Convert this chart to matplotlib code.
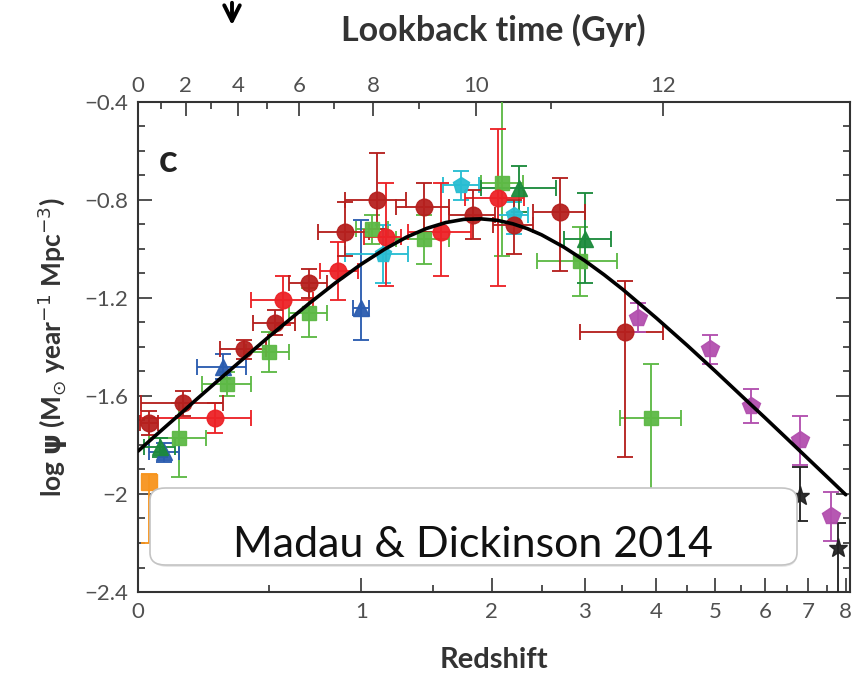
import numpy as np
import matplotlib
matplotlib.use('Agg')
import matplotlib.pyplot as plt
from matplotlib.patches import FancyBboxPatch, FancyArrowPatch
from matplotlib.ticker import FixedLocator, FixedFormatter

# ---------------- data ----------------
# best-fit curve: redshift, log SFRD
curve_z = [0, 0.05, 0.1, 0.15, 0.2, 0.3, 0.4, 0.5, 0.7, 0.85, 1.0, 1.15, 1.3, 1.45, 1.6, 1.75, 1.9,
           2.05, 2.2, 2.35, 2.5, 2.75, 3.0, 3.25, 3.5, 4, 4.5, 5, 5.5, 6, 6.5, 7, 7.5, 8]
curve_y = [-1.825, -1.768, -1.714, -1.663, -1.613, -1.521, -1.437, -1.359, -1.223, -1.136, -1.062,
           -1.001, -0.952, -0.916, -0.892, -0.879, -0.877, -0.883, -0.897, -0.917, -0.942, -0.992,
           -1.047, -1.105, -1.164, -1.282, -1.393, -1.498, -1.597, -1.688, -1.774, -1.855, -1.931, -2.003]

red_z = [0.27, 0.57, 0.86, 1.16, 1.56, 2.06]
red_y = [-1.69, -1.21, -1.09, -0.95, -0.93, -0.79]
red_ydn = [0.06, 0.10, 0.12, 0.20, 0.18, 0.36]
red_yup = [0.06, 0.10, 0.12, 0.22, 0.20, 0.28]
red_zl = [0.26, 0.15, 0.10, 0.14, 0.25, 0.30]
red_zr = [0.15, 0.15, 0.12, 0.10, 0.25, 0.25]

dred_z = [0.035, 0.15, 0.39, 0.53, 0.70, 0.90, 1.10, 1.43, 1.83, 2.21, 2.71, 3.53]
dred_y = [-1.71, -1.63, -1.41, -1.30, -1.14, -0.93, -0.80, -0.83, -0.86, -0.90, -0.85, -1.34]
dred_ydn = [0.05, 0.05, 0.04, 0.05, 0.06, 0.10, 0.12, 0.10, 0.10, 0.12, 0.24, 0.51]
dred_yup = [0.05, 0.05, 0.04, 0.05, 0.06, 0.12, 0.19, 0.10, 0.10, 0.10, 0.14, 0.21]
dred_zl = [0.03, 0.14, 0.10, 0.10, 0.10, 0.15, 0.20, 0.20, 0.20, 0.20, 0.30, 0.58]
dred_zr = [0.03, 0.15, 0.10, 0.10, 0.10, 0.15, 0.20, 0.20, 0.20, 0.20, 0.30, 0.58]

green_z = [0.135, 0.32, 0.50, 0.70, 1.07, 1.43, 2.10, 2.95, 3.92]
green_y = [-1.77, -1.55, -1.42, -1.26, -0.92, -0.96, -0.73, -1.05, -1.69]
green_ydn = [0.16, 0.05, 0.08, 0.10, 0.06, 0.10, 0.30, 0.14, 0.32]
green_yup = [0.14, 0.05, 0.08, 0.10, 0.06, 0.10, 0.45, 0.14, 0.22]
green_zl = [0.10, 0.10, 0.10, 0.10, 0.10, 0.20, 0.20, 0.50, 0.46]
green_zr = [0.10, 0.10, 0.10, 0.10, 0.10, 0.20, 0.20, 0.48, 0.48]

dgreen_z = [0.07, 2.26, 3.01]
dgreen_y = [-1.81, -0.75, -0.96]
dgreen_ydn = [0.04, 0.10, 0.18]
dgreen_yup = [0.04, 0.09, 0.19]
dgreen_zl = [0.05, 0.36, 0.26]
dgreen_zr = [0.05, 0.40, 0.33]

blue_z = [0.085, 0.30, 1.00]
blue_y = [-1.83, -1.48, -1.24]
blue_ydn = [0.04, 0.05, 0.13]
blue_yup = [0.04, 0.05, 0.36]
blue_zl = [0.05, 0.10, 0.05]
blue_zr = [0.05, 0.10, 0.05]

cyan_z = [1.14, 1.73, 2.21]
cyan_y = [-1.02, -0.74, -0.86]
cyan_ydn = [0.12, 0.06, 0.08]
cyan_yup = [0.12, 0.06, 0.05]
cyan_zl = [0.24, 0.15, 0.15]
cyan_zr = [0.17, 0.15, 0.15]

mag_z = [3.72, 4.9, 5.7, 6.8, 7.6]
mag_y = [-1.28, -1.41, -1.64, -1.78, -2.09]
mag_ydn = [0.06, 0.06, 0.07, 0.10, 0.10]
mag_yup = [0.06, 0.06, 0.07, 0.10, 0.10]

star_z = [6.8, 7.8]
star_y = [-2.01, -2.22]
star_ydn = [0.10, 0.20]
star_yup = [0.12, 0.10]

orange_z = [0.035]
orange_y = [-1.95]
orange_ydn = [0.25]
orange_yup = [0.03]

ytick_vals = [-2.4, -2.0, -1.6, -1.2, -0.8, -0.4]
ytick_labels = ['\u22122.4', '\u22122', '\u22121.6', '\u22121.2', '\u22120.8', '\u22120.4']
ztick_vals = [0, 1, 2, 3, 4, 5, 6, 7, 8]
lookback_major = [0, 2, 4, 6, 8, 10, 12]
lookback_minor = [1, 3, 5, 7, 9, 11]

# ---------------- helpers ----------------
H0, Om, OL = 70.0, 0.3, 0.7
tH = 977.8 / H0
def age(z):
    return 2 * tH / (3 * np.sqrt(OL)) * np.arcsinh(np.sqrt(OL / Om) * (1 + np.asarray(z, float)) ** -1.5)
def z_of_lookback(tl):
    t = age(0) - np.asarray(tl, float)
    s = np.sinh(3 * np.sqrt(OL) * t / (2 * tH)) / np.sqrt(OL / Om)
    return s ** (-2.0 / 3.0) - 1

fwd = lambda z: np.log10(1 + np.asarray(z, float))
inv = lambda x: 10 ** np.asarray(x, float) - 1

plt.rcParams['font.family'] = ['Lato', 'DejaVu Sans']
plt.rcParams['mathtext.fontset'] = 'dejavusans'

fig = plt.figure(figsize=(8.57, 6.78), dpi=100)
ax = fig.add_axes([138 / 857, 86 / 678, 712 / 857, 490 / 678])
ax.set_xscale('function', functions=(fwd, inv))
ax.set_xlim(0, 8.12)
ax.set_ylim(-2.4, -0.4)

C = dict(red='#ec2227', dred='#b5201e', green='#5db945', dgreen='#1c8a3c',
         blue='#2a5caf', cyan='#27bdd2', mag='#b24fae', orange='#f7941d', black='#222222')

def eb(z, y, ydn, yup, zl, zr, marker, color, ms=10, zo=3):
    xerr = None if zl is None else [zl, zr]
    ax.errorbar(z, y, yerr=[ydn, yup], xerr=xerr, fmt=marker, color=color, mec=color,
                ms=ms, elinewidth=1.4, capsize=6, capthick=1.4, zorder=zo, alpha=0.95)

eb(green_z, green_y, green_ydn, green_yup, green_zl, green_zr, 's', C['green'], ms=10)
eb(blue_z, blue_y, blue_ydn, blue_yup, blue_zl, blue_zr, '^', C['blue'], ms=11)
eb(cyan_z, cyan_y, cyan_ydn, cyan_yup, cyan_zl, cyan_zr, 'p', C['cyan'], ms=12)
eb(dgreen_z, dgreen_y, dgreen_ydn, dgreen_yup, dgreen_zl, dgreen_zr, '^', C['dgreen'], ms=11)
eb(red_z, red_y, red_ydn, red_yup, red_zl, red_zr, 'o', C['red'], ms=12)
eb(dred_z, dred_y, dred_ydn, dred_yup, dred_zl, dred_zr, 'o', C['dred'], ms=12)
eb(mag_z, mag_y, mag_ydn, mag_yup, None, None, 'p', C['mag'], ms=13)
eb(orange_z, orange_y, orange_ydn, orange_yup, None, None, 's', C['orange'], ms=11)
eb(star_z, star_y, star_ydn, star_yup, None, None, '*', C['black'], ms=14)

ax.plot(curve_z, curve_y, color='black', lw=2.6, zorder=6, solid_capstyle='round',
        solid_joinstyle='round')

# ticks
for sp in ax.spines.values():
    sp.set_color('#333333'); sp.set_linewidth(1.5)
ax.yaxis.set_major_locator(FixedLocator(ytick_vals))
ax.yaxis.set_major_formatter(FixedFormatter(ytick_labels))
ax.yaxis.set_minor_locator(FixedLocator(np.arange(-2.4, -0.39, 0.1)))
ax.xaxis.set_major_locator(FixedLocator(ztick_vals))
ax.xaxis.set_major_formatter(FixedFormatter([str(v) for v in ztick_vals]))
ax.xaxis.set_minor_locator(FixedLocator([0.5, 1.5, 2.5, 3.5, 4.5, 5.5, 6.5, 7.5]))
ax.tick_params(which='both', direction='in', right=True, top=False, color='#333333', width=1.2)
ax.tick_params(which='major', length=10, labelsize=16, labelcolor='#505050', pad=7)
ax.tick_params(which='minor', length=5)

ax2 = ax.twiny()
ax2.set_xscale('function', functions=(fwd, inv))
ax2.set_xlim(ax.get_xlim())
ax2.xaxis.set_major_locator(FixedLocator(list(z_of_lookback(lookback_major))))
ax2.xaxis.set_major_formatter(FixedFormatter([str(v) for v in lookback_major]))
ax2.xaxis.set_minor_locator(FixedLocator(list(z_of_lookback(lookback_minor))))
ax2.tick_params(which='both', direction='in', color='#333333', width=1.2)
ax2.tick_params(which='major', length=10, labelsize=16, labelcolor='#505050', pad=4)
ax2.tick_params(which='minor', length=5)
for sp in ax2.spines.values():
    sp.set_visible(False)

ax.set_xlabel('Redshift', fontsize=21, fontweight='bold', color='#333333', labelpad=18)
ax.set_ylabel(r'log $\mathbf{\psi}$ (M$_{\odot}$ year$^{-1}$ Mpc$^{-3}$)', fontsize=19,
              fontweight='bold', color='#333333', labelpad=10)
fig.text(493 / 857, 1 - 30 / 678, 'Lookback time (Gyr)', fontsize=24.5, fontweight='bold',
         color='#333333', ha='center', va='center')
ax.text(0.042, 0.88, 'c', transform=ax.transAxes, fontsize=28, fontweight='bold',
        color='#222222', ha='center', va='center')

# arrow
fig.patches.append(FancyArrowPatch((232 / 857, 1.0), (232 / 857, 1 - 28 / 678),
                   transform=fig.transFigure, arrowstyle='->', mutation_scale=28, lw=2.8,
                   color='black'))

# overlay box
shadow = FancyBboxPatch((152 / 857, 1 - 567 / 678), (797 - 152) / 857, (567 - 490) / 678,
                        boxstyle='round,pad=0,rounding_size=0.018', transform=fig.transFigure,
                        facecolor='#d8d8d8', edgecolor='none', alpha=0.6, zorder=9)
box = FancyBboxPatch((150 / 857, 1 - 565 / 678), (797 - 150) / 857, (565 - 488) / 678,
                     boxstyle='round,pad=0,rounding_size=0.018', transform=fig.transFigure,
                     facecolor='white', edgecolor='#c4c4c4', lw=1.2, zorder=10)
fig.patches.append(shadow)
fig.patches.append(box)
fig.text(473 / 857, 1 - 545 / 678, 'Madau & Dickinson 2014', fontsize=31, color='#111111',
         ha='center', va='center', zorder=11)

fig.savefig('out.png', dpi=100)
